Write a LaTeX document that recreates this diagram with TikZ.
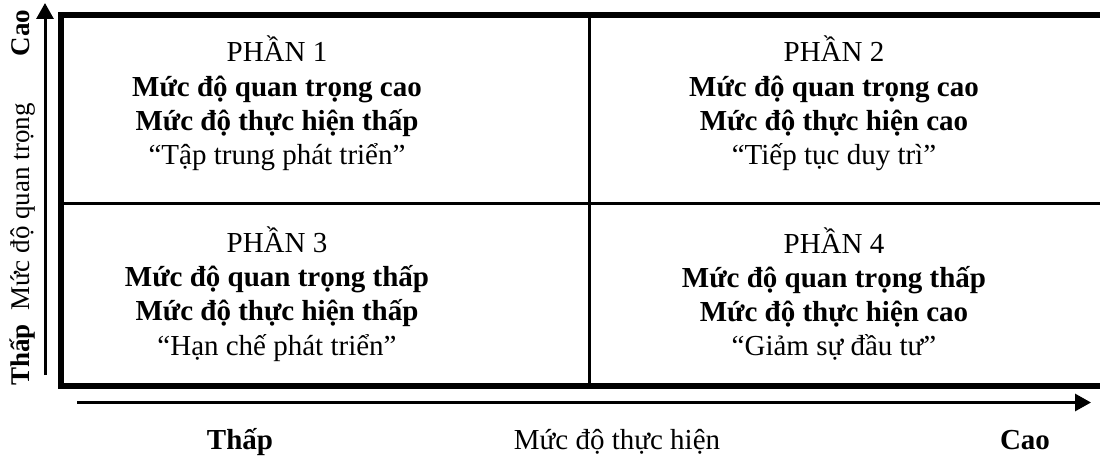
\documentclass[tikz,border=0pt]{standalone}
\usepackage{fontspec}
\setmainfont{Liberation Serif}
\usetikzlibrary{arrows.meta}
\begin{document}
\begin{tikzpicture}[x=1pt,y=-1pt,
  quad/.style={align=center,inner sep=0pt,font=\fontsize{29}{34.3}\selectfont},
  lbl/.style={inner sep=0pt,anchor=base,font=\fontsize{29}{34}\selectfont},
  ylbl/.style={inner sep=0pt,anchor=base,rotate=90,font=\fontsize{27}{32}\selectfont},
  border/.style={line width=6pt},
  divider/.style={line width=3pt},
  axis/.style={line width=3pt,-{Triangle[length=16pt,width=17pt]}}]
\useasboundingbox (0,0) rectangle (1100,457);
\begin{scope}
\clip (0,0) rectangle (1100,457);
% frame
\draw[border] (1110,15) -- (61,15) -- (61,385.5) -- (1110,385.5);
\draw[divider] (589.5,15) -- (589.5,385.5);
\draw[divider] (61,203.5) -- (1110,203.5);
\end{scope}
% axes
\coordinate (ybot) at (45,375);
\coordinate (ytop) at (45,3);
\coordinate (xl) at (77,402.5);
\coordinate (xr) at (1091,402.5);
\draw[axis] (ybot) -- (ytop);
\draw[axis] (xl) -- (xr);
% quadrants
\node[quad] (q1) at (277,103.5) {PHẦN 1\\\textbf{Mức độ quan trọng cao}\\\textbf{Mức độ thực hiện thấp}\\“Tập trung phát triển”};
\node[quad] (q2) at (834,103.5) {PHẦN 2\\\textbf{Mức độ quan trọng cao}\\\textbf{Mức độ thực hiện cao}\\“Tiếp tục duy trì”};
\node[quad] (q3) at (277,294) {PHẦN 3\\\textbf{Mức độ quan trọng thấp}\\\textbf{Mức độ thực hiện thấp}\\“Hạn chế phát triển”};
\node[quad] (q4) at (834,294) {PHẦN 4\\\textbf{Mức độ quan trọng thấp}\\\textbf{Mức độ thực hiện cao}\\“Giảm sự đầu tư”};
% x-axis labels
\node[lbl] (xlow) at (240,449) {\textbf{Thấp}};
\node[lbl] (xname) at (617,449) {Mức độ thực hiện};
\node[lbl] (xhigh) at (1025,449) {\textbf{Cao}};
% y-axis labels
\node[ylbl] (ylow) at (29,355) {\textbf{Thấp}};
\node[ylbl] (yname) at (29,207) {Mức độ quan trọng};
\node[ylbl] (yhigh) at (29,33) {\textbf{Cao}};
\end{tikzpicture}
\end{document}
